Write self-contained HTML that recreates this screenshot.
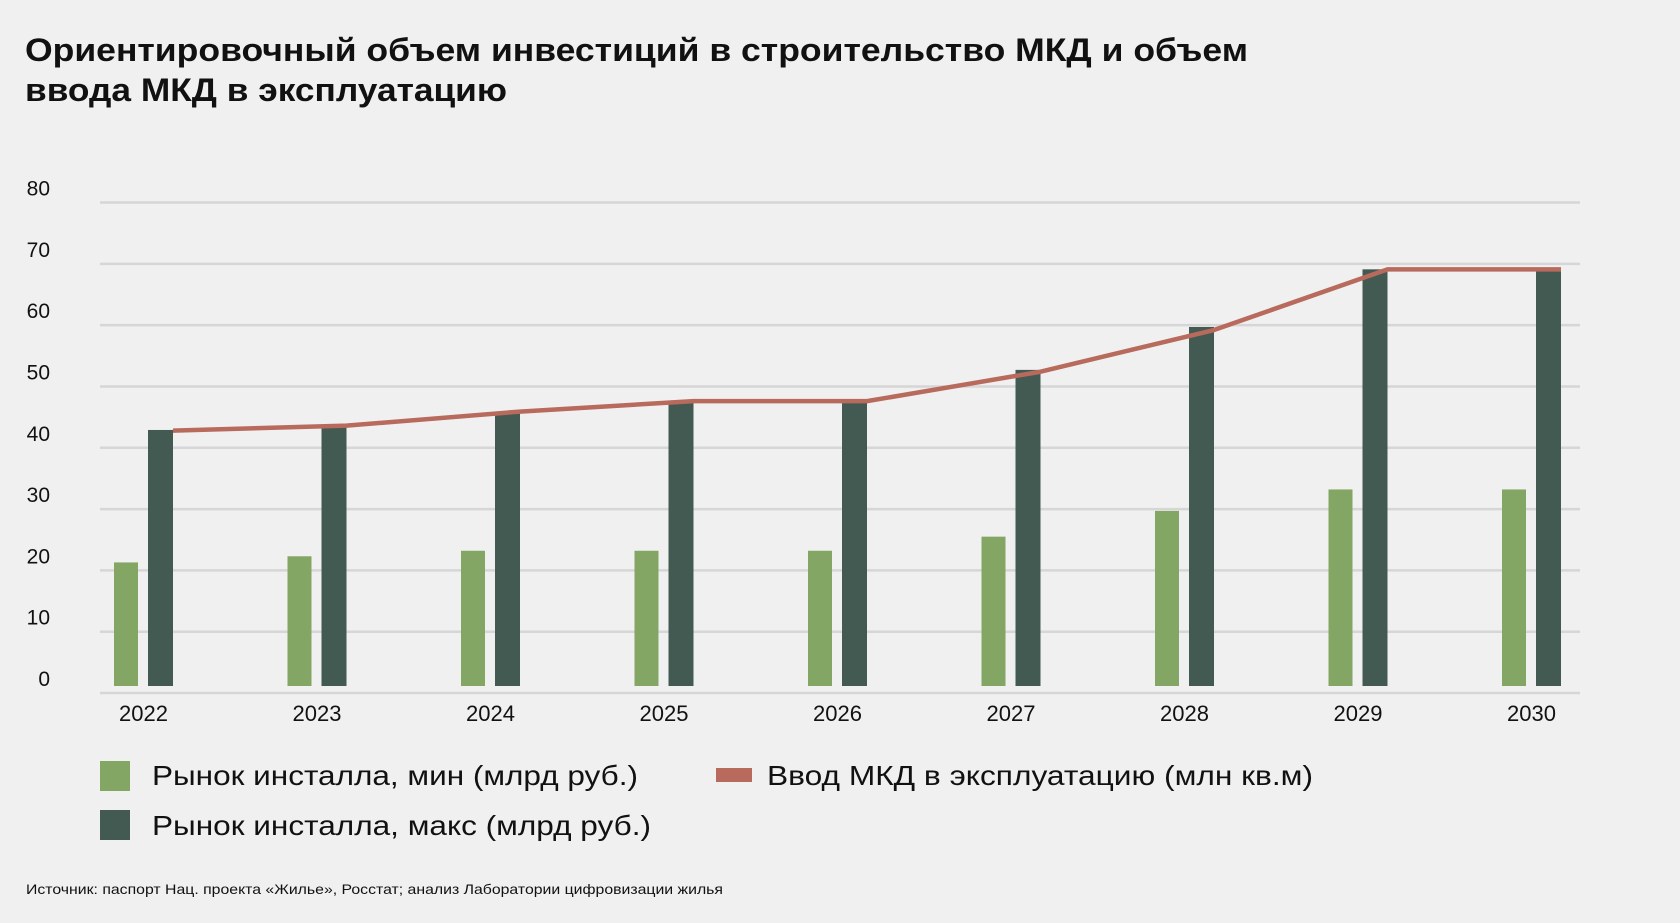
<!DOCTYPE html>
<html><head><meta charset="utf-8"><style>
html,body{margin:0;padding:0;background:#f0f0f0;}
svg{display:block;font-family:"Liberation Sans",Arial,sans-serif;}
</style></head><body>
<svg id="chart" width="1680" height="923" viewBox="0 0 1680 923" xmlns="http://www.w3.org/2000/svg">
<rect width="1680" height="923" fill="#f0f0f0"/>
<text x="25" y="61" font-size="32" font-weight="bold" fill="#111" textLength="1223" lengthAdjust="spacingAndGlyphs">Ориентировочный объем инвестиций в строительство МКД и объем</text>
<text x="25" y="101" font-size="32" font-weight="bold" fill="#111" textLength="482" lengthAdjust="spacingAndGlyphs">ввода МКД в эксплуатацию</text>
<g id="grid"></g>
<g id="yticks"></g>
<g id="bars"></g>
<g id="line"></g>
<g id="xticks"></g>
<g>
<rect x="100" y="761" width="30" height="30" fill="#84a665"/>
<text x="152" y="785" font-size="28" fill="#111" textLength="486" lengthAdjust="spacingAndGlyphs">Рынок инсталла, мин (млрд руб.)</text>
<rect x="716" y="768" width="36" height="14" fill="#b86a5c"/>
<text x="767" y="785" font-size="28" fill="#111" textLength="546" lengthAdjust="spacingAndGlyphs">Ввод МКД в эксплуатацию (млн кв.м)</text>
<rect x="100" y="810" width="30" height="30" fill="#425a52"/>
<text x="152" y="835" font-size="28" fill="#111" textLength="499" lengthAdjust="spacingAndGlyphs">Рынок инсталла, макс (млрд руб.)</text>
</g>
<text x="26" y="894" font-size="14" fill="#111" textLength="697" lengthAdjust="spacingAndGlyphs">Источник: паспорт Нац. проекта «Жилье», Росстат; анализ Лаборатории цифровизации жилья</text>
</svg>
<script>
const categories = ["2022","2023","2024","2025","2026","2027","2028","2029","2030"];
const minValues = [21.3, 22.3, 23.2, 23.2, 23.2, 25.5, 29.7, 33.2, 33.2];
const maxValues = [42.9, 43.5, 45.9, 47.3, 47.3, 52.7, 59.7, 69.1, 69.1];
const lineValues = [42.8, 43.6, 45.9, 47.6, 47.6, 52.4, 59.2, 69.1, 69.1];
const yTicks = [0, 10, 20, 30, 40, 50, 60, 70, 80];

const NS = "http://www.w3.org/2000/svg";
const y0 = 693, yTop = 202.5, yMax = 80;
function yScale(v){ return y0 - (v / yMax) * (y0 - yTop); }
const xFirst = 114, xStep = 173.5;
function xScale(i){ return xFirst + i * xStep; }
const barW = 24, maxOff = 34, barBase = 686;

function mk(tag, attrs){ const e = document.createElementNS(NS, tag); for (const k in attrs) e.setAttribute(k, attrs[k]); return e; }

const grid = document.getElementById('grid');
const yt = document.getElementById('yticks');
yTicks.forEach(t => {
  const y = yScale(t);
  const ln = mk('line', {x1:100, x2:1580, y1:y, y2:y, stroke:'#d6d6d6', 'stroke-width':2.5});
  
  
  grid.appendChild(ln);
  const tx = mk('text', {x:50, y:y-7, 'font-size':21, fill:'#111', 'text-anchor':'end'});
  tx.textContent = t;
  
  
  yt.appendChild(tx);
});

const bars = document.getElementById('bars');
const xt = document.getElementById('xticks');
categories.forEach((c, i) => {
  const x = xScale(i);
  const ymin = yScale(minValues[i]);
  const b1 = mk('rect', {x:x, y:ymin, width:barW, height:barBase - ymin, fill:'#84a665'});
  
  
  bars.appendChild(b1);
  const ymx = yScale(maxValues[i]);
  const b2 = mk('rect', {x:x + maxOff, y:ymx, width:barW + 1, height:barBase - ymx, fill:'#425a52'});
  
  
  bars.appendChild(b2);
  const tx = mk('text', {x:x + (maxOff + barW + 1) / 2, y:721, 'font-size':22, fill:'#111', 'text-anchor':'middle'});
  tx.textContent = c;
  
  
  xt.appendChild(tx);
});

const pts = lineValues.map((v, i) => (xScale(i) + maxOff + barW + 1) + ',' + yScale(v)).join(' ');
const pl = mk('polyline', {points:pts, fill:'none', stroke:'#b86a5c', 'stroke-width':4.5, 'stroke-linejoin':'round'});


document.getElementById('line').appendChild(pl);
</script>
</body></html>
